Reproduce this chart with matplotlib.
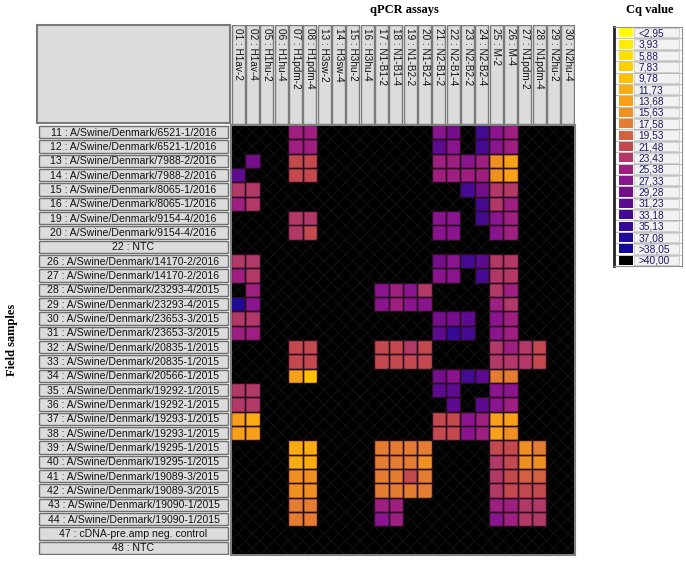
import numpy as np
import matplotlib
matplotlib.use('Agg')
import matplotlib.pyplot as plt
from matplotlib.colors import ListedColormap, BoundaryNorm
from matplotlib.patches import Rectangle

# qPCR assays (columns) and field samples (rows)
assays = ['01 : H1av-2', '02 : H1av-4', '05 : H1hu-2', '06 : H1hu-4', '07 : H1pdm-2',
          '08 : H1pdm-4', '13 : H3sw-2', '14 : H3sw-4', '15 : H3hu-2', '16 : H3hu-4',
          '17 : N1-B1-2', '18 : N1-B1-4', '19 : N1-B2-2', '20 : N1-B2-4', '21 : N2-B1-2',
          '22 : N2-B1-4', '23 : N2-B2-2', '24 : N2-B2-4', '25 : M-2', '26 : M-4',
          '27 : N1pdm-2', '28 : N1pdm-4', '29 : N2hu-2', '30 : N2hu-4']

samples = ['11 : A/Swine/Denmark/6521-1/2016', '12 : A/Swine/Denmark/6521-1/2016',
           '13 : A/Swine/Denmark/7988-2/2016', '14 : A/Swine/Denmark/7988-2/2016',
           '15 : A/Swine/Denmark/8065-1/2016', '16 : A/Swine/Denmark/8065-1/2016',
           '19 : A/Swine/Denmark/9154-4/2016', '20 : A/Swine/Denmark/9154-4/2016',
           '22 : NTC',
           '26 : A/Swine/Denmark/14170-2/2016', '27 : A/Swine/Denmark/14170-2/2016',
           '28 : A/Swine/Denmark/23293-4/2015', '29 : A/Swine/Denmark/23293-4/2015',
           '30 : A/Swine/Denmark/23653-3/2015', '31 : A/Swine/Denmark/23653-3/2015',
           '32 : A/Swine/Denmark/20835-1/2015', '33 : A/Swine/Denmark/20835-1/2015',
           '34 : A/Swine/Denmark/20566-1/2015', '35 : A/Swine/Denmark/19292-1/2015',
           '36 : A/Swine/Denmark/19292-1/2015', '37 : A/Swine/Denmark/19293-1/2015',
           '38 : A/Swine/Denmark/19293-1/2015', '39 : A/Swine/Denmark/19295-1/2015',
           '40 : A/Swine/Denmark/19295-1/2015', '41 : A/Swine/Denmark/19089-3/2015',
           '42 : A/Swine/Denmark/19089-3/2015', '43 : A/Swine/Denmark/19090-1/2015',
           '44 : A/Swine/Denmark/19090-1/2015',
           '47 : cDNA-pre.amp neg. control', '48 : NTC']

# legend levels
cq_levels = [2.95, 3.93, 5.88, 7.83, 9.78, 11.73, 13.68, 15.63, 17.58, 19.53, 21.48,
             23.43, 25.38, 27.33, 29.28, 31.23, 33.18, 35.13, 37.08, 38.05, 40.00]
cq_labels = ['<2,95', '3,93', '5,88', '7,83', '9,78', '11,73', '13,68', '15,63', '17,58',
             '19,53', '21,48', '23,43', '25,38', '27,33', '29,28', '31,23', '33,18',
             '35,13', '37,08', '>38,05', '>40,00']
cq_colors = ['#FFFF00', '#FFEC00', '#FFDE00', '#FFCE00', '#FFC000', '#FBAC10', '#F8A018',
             '#F09020', '#E47C32', '#D46040', '#C4494F', '#B23868', '#9E1F80', '#8A148E',
             '#740E8A', '#5C0A90', '#440A92', '#340A96', '#220A98', '#12089C', '#000000']

N = 40.0  # >40 (no signal)
cq = [
    [N, N, N, N, 25.38, 25.38, N, N, N, N, N, N, N, N, 27.33, 29.28, N, 33.18, 27.33, 25.38, N, N, N, N],
    [N, N, N, N, 25.38, 25.38, N, N, N, N, N, N, N, N, 31.23, 27.33, N, 33.18, 27.33, 25.38, N, N, N, N],
    [N, 29.28, N, N, 21.48, 21.48, N, N, N, N, N, N, N, N, 25.38, 25.38, 27.33, 25.38, 15.63, 13.68, N, N, N, N],
    [31.23, N, N, N, 21.48, 21.48, N, N, N, N, N, N, N, N, 25.38, 25.38, 25.38, 25.38, 15.63, 13.68, N, N, N, N],
    [23.43, 23.43, N, N, N, N, N, N, N, N, N, N, N, N, N, N, 33.18, 29.28, 23.43, 23.43, N, N, N, N],
    [25.38, 23.43, N, N, N, N, N, N, N, N, N, N, N, N, N, N, N, 33.18, 23.43, 25.38, N, N, N, N],
    [N, N, N, N, 23.43, 23.43, N, N, N, N, N, N, N, N, 27.33, 27.33, N, 33.18, 27.33, 25.38, N, N, N, N],
    [N, N, N, N, 23.43, 21.48, N, N, N, N, N, N, N, N, 27.33, 27.33, N, N, 27.33, 25.38, N, N, N, N],
    [N, N, N, N, N, N, N, N, N, N, N, N, N, N, N, N, N, N, N, N, N, N, N, N],
    [23.43, 23.43, N, N, N, N, N, N, N, N, N, N, N, N, 29.28, 27.33, 33.18, 31.23, 23.43, 23.43, N, N, N, N],
    [25.38, 23.43, N, N, N, N, N, N, N, N, N, N, N, N, 27.33, 27.33, N, 33.18, 23.43, 23.43, N, N, N, N],
    [N, 25.38, N, N, N, N, N, N, N, N, 27.33, 25.38, 27.33, 23.43, N, N, N, N, 23.43, 25.38, N, N, N, N],
    [37.08, 27.33, N, N, N, N, N, N, N, N, 27.33, 25.38, 27.33, 27.33, N, N, N, N, 25.38, 23.43, N, N, N, N],
    [23.43, 23.43, N, N, N, N, N, N, N, N, N, N, N, N, 29.28, 29.28, 31.23, N, 27.33, 25.38, N, N, N, N],
    [25.38, 25.38, N, N, N, N, N, N, N, N, N, N, N, N, 31.23, 35.13, 33.18, N, 27.33, 25.38, N, N, N, N],
    [N, N, N, N, 21.48, 21.48, N, N, N, N, 21.48, 21.48, 23.43, 21.48, N, N, N, N, 23.43, 25.38, 23.43, 21.48, N, N],
    [N, N, N, N, 21.48, 21.48, N, N, N, N, 21.48, 21.48, 21.48, 21.48, N, N, N, N, 23.43, 23.43, 23.43, 21.48, N, N],
    [N, N, N, N, 13.68, 9.78, N, N, N, N, N, N, N, N, 29.28, 27.33, 33.18, 31.23, 17.58, 17.58, N, N, N, N],
    [23.43, 23.43, N, N, N, N, N, N, N, N, N, N, N, N, 31.23, 31.23, N, N, 27.33, 27.33, N, N, N, N],
    [23.43, 23.43, N, N, N, N, N, N, N, N, N, N, N, N, N, 31.23, N, 31.23, 27.33, 25.38, N, N, N, N],
    [13.68, 11.73, N, N, N, N, N, N, N, N, N, N, N, N, 21.48, 21.48, 27.33, 25.38, 13.68, 13.68, N, N, N, N],
    [13.68, 13.68, N, N, N, N, N, N, N, N, N, N, N, N, 21.48, 21.48, 27.33, 25.38, 13.68, 15.63, N, N, N, N],
    [N, N, N, N, 11.73, 11.73, N, N, N, N, 17.58, 17.58, 17.58, 17.58, N, N, N, N, 21.48, 21.48, 15.63, 17.58, N, N],
    [N, N, N, N, 11.73, 11.73, N, N, N, N, 17.58, 17.58, 17.58, 15.63, N, N, N, N, 23.43, 21.48, 15.63, 15.63, N, N],
    [N, N, N, N, 15.63, 15.63, N, N, N, N, 17.58, 17.58, 21.48, 17.58, N, N, N, N, 23.43, 21.48, 19.53, 19.53, N, N],
    [N, N, N, N, 15.63, 15.63, N, N, N, N, 17.58, 17.58, 17.58, 17.58, N, N, N, N, 23.43, 21.48, 21.48, 21.48, N, N],
    [N, N, N, N, 17.58, 17.58, N, N, N, N, 25.38, 25.38, N, N, N, N, N, N, 25.38, 25.38, 23.43, 23.43, N, N],
    [N, N, N, N, 17.58, 17.58, N, N, N, N, 27.33, 25.38, N, N, N, N, N, N, 27.33, 25.38, 23.43, 23.43, N, N],
    [N, N, N, N, N, N, N, N, N, N, N, N, N, N, N, N, N, N, N, N, N, N, N, N],
    [N, N, N, N, N, N, N, N, N, N, N, N, N, N, N, N, N, N, N, N, N, N, N, N],
]


def main():
    plt.rcParams['font.family'] = ['Liberation Sans', 'DejaVu Sans']
    W, H = 686, 561
    fig = plt.figure(figsize=(W / 100, H / 100), dpi=100)

    def box(x0, y0, x1, y1):
        # pixel box -> figure fraction rect
        return [x0 / W, 1 - y1 / H, (x1 - x0) / W, (y1 - y0) / H]

    M = np.array(cq)
    nr, nc = M.shape
    edges = [0.0] + [(a + b) / 2 for a, b in zip(cq_levels[:-1], cq_levels[1:])] + [41.0]
    cmap = ListedColormap(cq_colors)
    norm = BoundaryNorm(edges, cmap.N)

    # heatmap
    ax = fig.add_axes(box(231, 125, 575, 555))
    ax.imshow(M, cmap=cmap, norm=norm, aspect='auto', interpolation='nearest')
    for i in range(nr):
        for j in range(nc):
            if M[i, j] >= 40:
                ax.plot([j - 0.5, j + 0.5], [i - 0.5, i + 0.5], color='#161616', lw=0.6)
                ax.plot([j - 0.5, j + 0.5], [i + 0.5, i - 0.5], color='#161616', lw=0.6)
            else:
                ax.add_patch(Rectangle((j - 0.5, i - 0.5), 1, 1, fill=False,
                                       edgecolor='#2a0f20', lw=1.0))
    ax.set_xlim(-0.5, nc - 0.5)
    ax.set_ylim(nr - 0.5, -0.5)
    ax.set_xticks([])
    ax.set_yticks([])
    for s in ax.spines.values():
        s.set_color('#808080')
        s.set_linewidth(1.5)

    # row labels
    axr = fig.add_axes(box(37, 125, 230, 555))
    axr.set_xlim(0, 1)
    axr.set_ylim(nr - 0.5, -0.5)
    axr.axis('off')
    for i, lab in enumerate(samples):
        axr.add_patch(Rectangle((0.01, i - 0.44), 0.98, 0.88, facecolor='#DCDCDC',
                                edgecolor='#6e6e6e', lw=1.0))
        axr.text(0.5, i + 0.03, lab, ha='center', va='center', fontsize=7.6, color='#111111')

    # column headers
    axc = fig.add_axes(box(231, 25, 575, 124))
    axc.set_xlim(-0.5, nc - 0.5)
    axc.set_ylim(1, 0)
    axc.axis('off')
    for j, lab in enumerate(assays):
        axc.add_patch(Rectangle((j - 0.45, 0.0), 0.9, 1.0, facecolor='#DCDCDC',
                                edgecolor='#7a7a7a', lw=1.0))
        axc.text(j + 0.02, 0.035, lab, rotation=-90, ha='center', va='top', fontsize=7.2,
                 color='#111111')

    # empty top-left corner box
    axk = fig.add_axes(box(37, 25, 230, 123))
    axk.set_xticks([])
    axk.set_yticks([])
    axk.set_facecolor('#DCDCDC')
    for s in axk.spines.values():
        s.set_color('#7a7a7a')
        s.set_linewidth(1.5)

    # legend
    axl = fig.add_axes(box(614, 27, 682, 266))
    n = len(cq_labels)
    axl.set_xlim(0, 1)
    axl.set_ylim(n, 0)
    axl.set_xticks([])
    axl.set_yticks([])
    for s in axl.spines.values():
        s.set_color('#909090')
    axl.spines['left'].set_color('#222222')
    axl.spines['left'].set_linewidth(2)
    for i, (lab, col) in enumerate(zip(cq_labels, cq_colors)):
        axl.add_patch(Rectangle((0.08, i + 0.1), 0.2, 0.8, facecolor=col, edgecolor='none'))
        axl.add_patch(Rectangle((0.3, i + 0.08), 0.66, 0.84, facecolor='#F2F2F2',
                                edgecolor='#C8C8C8', lw=0.6))
        axl.text(0.36, i + 0.55, lab, ha='left', va='center', fontsize=7.3, color='#1a1a66')
        axl.axhline(i, color='#AAAAAA', lw=0.5)

    serif = ['Liberation Serif', 'DejaVu Serif']
    fig.text(404 / W, 1 - 10 / H, 'qPCR assays', ha='center', va='center',
             family=serif, weight='bold', fontsize=9)
    fig.text(650 / W, 1 - 10 / H, 'Cq value', ha='center', va='center',
             family=serif, weight='bold', fontsize=9)
    fig.text(12 / W, 1 - 340 / H, 'Field samples', ha='center', va='center',
             rotation=90, family=serif, weight='bold', fontsize=9)

    plt.savefig('out.png', dpi=100)


if __name__ == "__main__":
    main()
